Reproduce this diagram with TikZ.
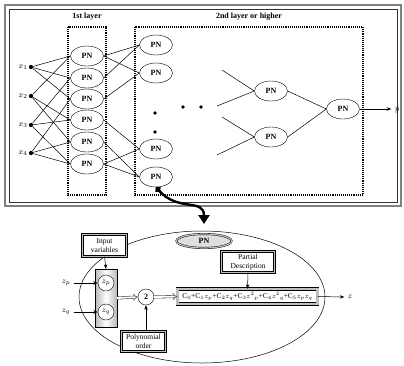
\documentclass[tikz,border=0pt]{standalone}
\usepackage{fontspec}
\setmainfont{Liberation Serif}
\usetikzlibrary{arrows.meta,positioning,shapes.geometric}

\begin{document}
\begin{tikzpicture}[
  x=1pt, y=-1pt,
  font=\fontsize{8}{9}\selectfont,
  pn/.style={draw, ellipse, minimum width=33pt, minimum height=20pt, inner sep=0pt,
             font=\fontsize{8}{9}\selectfont\bfseries},
  layer/.style={draw, densely dotted, line width=1.1pt},
  inp/.style={circle, fill, inner sep=1.5pt},
  dot/.style={circle, fill, inner sep=1.3pt},
  link/.style={line width=.5pt},
  flow/.style={-{Stealth[length=4.5pt,width=3.5pt]}, line width=.5pt},
  dbox/.style={draw, double=gray!50, double distance=1.3pt, fill=white, align=center,
               inner sep=1pt, font=\fontsize{7.5}{8.5}\selectfont},
  zcirc/.style={draw, circle, fill=white, minimum size=16pt, inner sep=0pt},
  hollow/.style={draw=gray!60!black, double=white, double distance=1.8pt, line width=.6pt,
                 -{Implies[length=5pt]}},
  bigflow/.style={line width=2.4pt, {Circle[length=6pt]}-{Triangle[length=9pt,width=11pt]}}
]
  \useasboundingbox (0,0) rectangle (404,365);
  % outer frame
  \draw[gray, line width=1.8pt] (5,5) rectangle (401,206);
  \draw[gray!40!black, line width=.6pt] (9,9) rectangle (397,202);

  % layers
  \draw[layer] (68,27) rectangle (106,195);
  \draw[layer] (135,27) rectangle (363,195);
  \node[font=\fontsize{8}{9}\selectfont\bfseries] (l1) at (87,17) {1st layer};
  \node[font=\fontsize{8}{9}\selectfont\bfseries] (l2) at (249,17) {2nd layer or higher};

  % inputs
  \node[inp, label={[inner sep=1pt]left:$x_1$}] (x1) at (31,67) {};
  \node[inp, label={[inner sep=1pt]left:$x_2$}] (x2) at (31,96) {};
  \node[inp, label={[inner sep=1pt]left:$x_3$}] (x3) at (31,125) {};
  \node[inp, label={[inner sep=1pt]left:$x_4$}] (x4) at (31,153) {};

  % 1st layer
  \foreach \i/\y in {1/56,2/78,3/99,4/120,5/142,6/164}
    \node[pn] (f\i) at (87,\y) {PN};
  \foreach \a/\b [count=\i] in {1/2,1/3,1/4,2/3,2/4,3/4} {
    \draw[link] (x\a) -- (f\i.west);
    \draw[link] (x\b) -- (f\i.west);
  }

  % 2nd layer
  \foreach \i/\y in {1/45,2/73,3/149,4/177}
    \node[pn] (s\i) at (156,\y) {PN};
  \foreach \s/\a/\b in {1/1/2,2/1/3,3/4/6,4/5/6} {
    \draw[link] (f\a.east) -- (s\s.west);
    \draw[link] (f\b.east) -- (s\s.west);
  }
  \node[dot] (v1) at (155,113) {};
  \node[dot] (v2) at (155,132) {};
  \node[dot] (h1) at (183,107) {};
  \node[dot] (h2) at (201,107) {};

  % higher layers
  \node[pn] (m1) at (271,91) {PN};
  \node[pn] (m2) at (271,137) {PN};
  \node[pn] (out) at (343,109) {PN};
  \coordinate (a1) at (222,70);
  \coordinate (a2) at (217,106);
  \coordinate (a3) at (222,117);
  \coordinate (a4) at (217,155);
  \draw[link] (a1) -- (m1.west);
  \draw[link] (a2) -- (m1.west);
  \draw[link] (a3) -- (m2.west);
  \draw[link] (a4) -- (m2.west);
  \draw[link] (m1.east) -- (out.west);
  \draw[link] (m2.east) -- (out.west);
  \node (yhat) at (397,109) {$\hat{y}$};
  \draw[flow] (out.east) -- (yhat.west);

  % detail of one PN
  \node[draw, ellipse, minimum width=246pt, minimum height=132pt, line width=.5pt] (view) at (202,297) {};
  \node[pn, double=gray!50, double distance=1.2pt, fill=gray!25, minimum width=55pt,
        minimum height=14pt] (pntop) at (204,241) {PN};
  \coordinate (tip) at (204,224);
  \draw[bigflow] (s4.south) .. controls (178,212) and (204,198) .. (tip);

  \node[dbox, minimum width=44pt, minimum height=22pt] (invar) at (104.5,245.5) {Input\\variables};
  \node[draw, left color=gray!55, right color=gray!55, middle color=white,
        minimum width=22pt, minimum height=58pt, inner sep=0pt] (col) at (106,298) {};
  \node[zcirc] (zp) at (106,283) {$z_p$};
  \node[zcirc] (zq) at (106,312) {$z_q$};
  \node (zpin) at (66,283) {$z_p$};
  \node (zqin) at (66,312) {$z_q$};
  \draw[flow] (zpin.east) -- (zp.west);
  \draw[flow] (zqin.east) -- (zq.west);
  \draw[flow] (invar.south) -- (col.north);

  \node[zcirc, font=\fontsize{8}{9}\selectfont\bfseries] (two) at (146,297) {2};
  \node[dbox, minimum width=44pt, minimum height=20pt] (order) at (143.5,341.5) {Polynomial\\order};
  \draw[flow] (two |- order.north) -- (two.south);

  \node[dbox, double distance=2.6pt, minimum width=140pt, minimum height=15pt,
        font=\fontsize{7.5}{8.5}\selectfont] (poly) at (247.5,296.5)
    {$\mathrm{C}_0$+$\mathrm{C}_1z_p$+$\mathrm{C}_2z_q$+$\mathrm{C}_3z^2{}_p$+$\mathrm{C}_4z^2{}_q$+$\mathrm{C}_5z_pz_q$};
  \node[dbox, minimum width=53pt, minimum height=21pt] (partial) at (248,262) {Partial\\Description};
  \draw[flow] (partial.south) -- (poly.north);
  \draw[hollow] (col.east) -- (two.west);
  \draw[hollow] (two.east) -- (poly.west);
  \node (zout) at (350,297) {$z$};
  \draw[flow] (poly.east) -- (zout.west);
\end{tikzpicture}
\end{document}
